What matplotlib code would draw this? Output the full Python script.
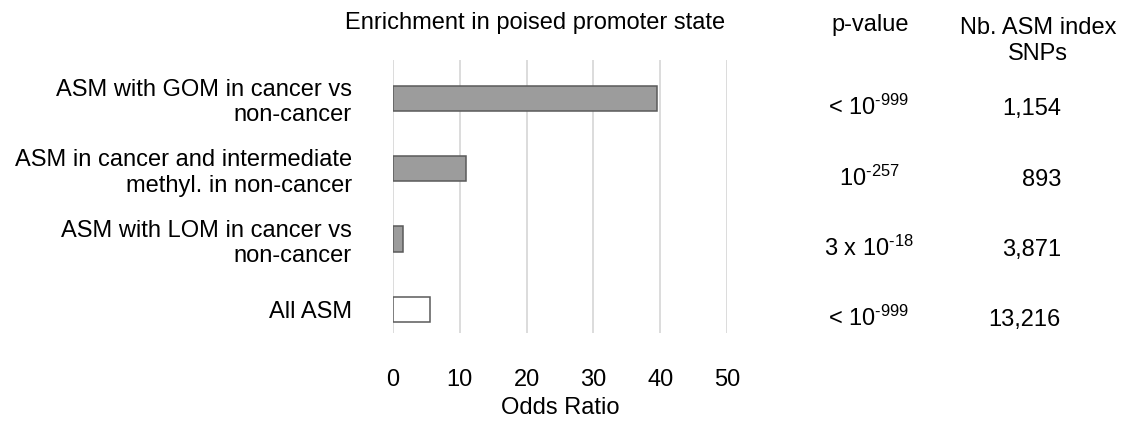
import matplotlib.pyplot as plt
import numpy as np
from matplotlib.transforms import blended_transform_factory

# data
categories = ['ASM with GOM in cancer vs\nnon-cancer',
              'ASM in cancer and intermediate\nmethyl. in non-cancer',
              'ASM with LOM in cancer vs\nnon-cancer',
              'All ASM']
odds_ratio = [39.5, 11.0, 1.55, 5.5]
p_values = ['< 10$^{\u2010999}$', '10$^{\u2010257}$', '3 x 10$^{\u201018}$', '< 10$^{\u2010999}$']
n_snps = ['1,154', '893', '3,871', '13,216']
bar_fills = ['#9c9c9c', '#9c9c9c', '#9c9c9c', '#ffffff']
xticks = [0, 10, 20, 30, 40, 50]

plt.rcParams['font.family'] = ['Liberation Sans', 'DejaVu Sans']
plt.rcParams['mathtext.fontset'] = 'custom'
plt.rcParams['mathtext.rm'] = 'Liberation Sans'
plt.rcParams['mathtext.default'] = 'regular'
fs = 17

fig = plt.figure(figsize=(11.25, 4.23), dpi=100)
ax = fig.add_axes([0.3493, 0.2128, 0.2969, 0.6454])

y = np.arange(len(categories))
ax.barh(y, odds_ratio, height=0.36, color=bar_fills, edgecolor='#5a5a5a',
        linewidth=1.1, zorder=3)

ax.set_xlim(0, 50)
ax.set_ylim(3.334, -0.547)
ax.set_xticks(xticks)
ax.set_xticklabels([str(t) for t in xticks], fontsize=fs)
ax.set_yticks(y)
ax.set_yticklabels(categories, fontsize=fs, ha='right')
ax.tick_params(axis='x', length=0, pad=26)
ax.tick_params(axis='y', length=0, pad=29.5)
ax.set_xlabel('Odds Ratio', fontsize=fs, labelpad=4)
ax.grid(axis='x', color='#d9d9d9', linewidth=1.3, zorder=0)
for s in ax.spines.values():
    s.set_visible(False)

# headers
fig.text(0.4756, 0.9326, 'Enrichment in poised promoter state', fontsize=fs,
         ha='center', va='baseline')
fig.text(0.7733, 0.9267, 'p-value', fontsize=fs, ha='center', va='baseline')
fig.text(0.9227, 0.9208, 'Nb. ASM index', fontsize=fs, ha='center', va='baseline')
fig.text(0.9227, 0.857, 'SNPs', fontsize=fs, ha='center', va='baseline')

# table columns
tr = blended_transform_factory(fig.transFigure, ax.transData)
for i in range(len(categories)):
    ax.text(0.7724, i + 0.24, p_values[i], transform=tr, fontsize=fs,
            ha='center', va='baseline', clip_on=False)
    ax.text(0.9431, i + 0.24, n_snps[i], transform=tr, fontsize=fs,
            ha='right', va='baseline', clip_on=False)

fig.savefig('out.png', dpi=100, facecolor='white')
